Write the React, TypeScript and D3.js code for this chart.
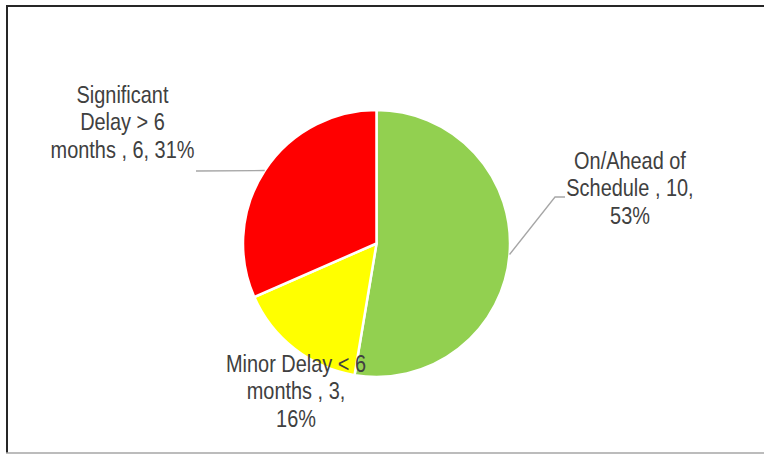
import React from "react";
import * as d3 from "d3";

const categories = ["On/Ahead of Schedule", "Minor Delay < 6 months", "Significant Delay > 6 months"];
const values = [10, 3, 6];
const colors = ["#92D050", "#FFFF00", "#FF0000"];
const labelLines = [
  ["On/Ahead of", "Schedule , 10,", "53%"],
  ["Minor Delay < 6", "months , 3,", "16%"],
  ["Significant", "Delay > 6", "months , 6, 31%"],
];

const W = 764;
const H = 455;
const cx = 376.5;
const cy = 243.5;
const R = 133.5;

// label layout: centre x and first baseline; leader: elbow / end points (or null)
const labelPos = [
  { x: 630, y: 169, leader: [[555, 197], [565, 197]] },
  { x: 296, y: 372, leader: null },
  { x: 122.5, y: 103, leader: [[196, 171]] },
];

export default function App() {
  const pie = d3.pie<number>().sort(null).startAngle(0).endAngle(2 * Math.PI);
  const arcs = pie(values);
  const arcGen = d3.arc<d3.PieArcDatum<number>>().innerRadius(0).outerRadius(R);
  const lineH = 27.5;
  const font = "'Liberation Sans', Arial, sans-serif";

  return (
    <svg width={W} height={H} style={{ position: "absolute", left: 0, top: 0, background: "#fff" }}>
      <rect x={0} y={0} width={W} height={H} fill="#fff" />
      <line x1={6} y1={6} x2={W} y2={6} stroke="#262626" strokeWidth={2} />
      <line x1={7} y1={5} x2={7} y2={453} stroke="#262626" strokeWidth={2} />
      <line x1={6} y1={453} x2={W} y2={453} stroke="#A6A6A6" strokeWidth={1.5} />
      <g transform={`translate(${cx},${cy})`}>
        {arcs.map((a, i) => (
          <path key={categories[i]} d={arcGen(a) || ""} fill={colors[i]} stroke="#fff" strokeWidth={2.5} strokeLinejoin="round" />
        ))}
      </g>
      {arcs.map((a, i) => {
        const lp = labelPos[i];
        if (!lp.leader) return null;
        const mid = (a.startAngle + a.endAngle) / 2;
        const sx = cx + R * Math.sin(mid);
        const sy = cy - R * Math.cos(mid);
        const pts: [number, number][] = [[sx, sy], ...(lp.leader as [number, number][])];
        return (
          <path key={"l" + i} d={d3.line()(pts) || ""} fill="none" stroke="#A6A6A6" strokeWidth={1.3} />
        );
      })}
      {labelLines.map((lines, i) => (
        <g key={"t" + i} transform={`translate(${labelPos[i].x},0) scale(0.83,1)`}>
          <text fill="#404040" fontFamily={font} fontSize={24} textAnchor="middle">
            {lines.map((ln, j) => (
              <tspan key={j} x={0} y={labelPos[i].y + j * lineH}>
                {ln}
              </tspan>
            ))}
          </text>
        </g>
      ))}
    </svg>
  );
}
